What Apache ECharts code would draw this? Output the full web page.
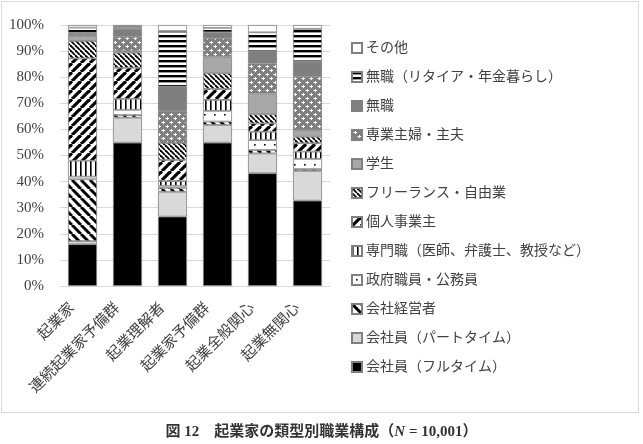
<!DOCTYPE html>
<html>
<head>
<meta charset="utf-8">
<script src="https://cdn.jsdelivr.net/npm/echarts@6/dist/echarts.min.js"></script>
<style>
html, body { margin: 0; padding: 0; background: #fff; }
#chart { width: 643px; height: 444px; }
</style>
</head>
<body>
<div id="chart"></div>
<script>
// 類型 (x 軸)
var categories = ['起業家', '連続起業家予備群', '起業理解者', '起業家予備群', '起業全般関心', '起業無関心'];

// 職業構成 (%), 下から順
var fullTime     = [16.0, 54.9, 26.6, 54.9, 43.2, 32.7];
var partTime     = [1.2, 9.6, 9.5, 6.8, 7.6, 11.4];
var executive    = [23.7, 1.0, 1.5, 1.3, 1.3, 0.7];
var government   = [1.0, 2.0, 0.8, 4.1, 3.8, 3.9];
var professional = [6.1, 4.2, 1.8, 4.2, 3.2, 2.8];
var selfEmployed = [39.2, 11.9, 8.1, 4.2, 3.2, 3.2];
var freelance    = [6.7, 5.8, 6.6, 6.0, 3.5, 2.5];
var student      = [1.9, 0.6, 0.0, 6.4, 8.0, 2.6];
var homemaker    = [0.7, 5.5, 12.1, 7.0, 11.5, 20.4];
var unemployed   = [0.5, 3.0, 9.4, 2.3, 4.7, 6.0];
var retired      = [2.0, 1.0, 21.3, 1.7, 7.2, 12.3];
var other        = [1.0, 0.5, 2.3, 1.1, 2.8, 1.5];

var FONT = '"Liberation Serif", "Noto Sans CJK JP", serif';

/*------------ パターン作成 ------------*/
function tile(size, draw){
    var c = document.createElement('canvas');
    c.width = size; c.height = size;
    var ctx = c.getContext('2d');
    draw(ctx, size);
    return { image: c, repeat: 'repeat' };
}
function diag(size, w, dir){
    return tile(size, function(ctx, s){
        ctx.fillStyle = '#fff';
        ctx.fillRect(0, 0, s, s);
        ctx.strokeStyle = '#000';
        ctx.lineWidth = w;
        for (var o = -s; o <= s; o += s){
            ctx.beginPath();
            if (dir > 0){ ctx.moveTo(o, s); ctx.lineTo(o + s, 0); }
            else { ctx.moveTo(o, 0); ctx.lineTo(o + s, s); }
            ctx.stroke();
        }
    });
}
var patVertical = tile(5, function(ctx, s){
    ctx.fillStyle = '#fff'; ctx.fillRect(0, 0, s, s);
    ctx.fillStyle = '#000'; ctx.fillRect(0, 0, 1.6, s);
});
var patHorizontal = tile(5, function(ctx, s){
    ctx.fillStyle = '#fff'; ctx.fillRect(0, 0, s, s);
    ctx.fillStyle = '#000'; ctx.fillRect(0, 0, s, 2.4);
});
var patDots = tile(10, function(ctx, s){
    ctx.fillStyle = '#fff'; ctx.fillRect(0, 0, s, s);
    ctx.fillStyle = '#000'; ctx.fillRect(4, 4, 1.6, 1.6);
});
var patCheck = tile(8, function(ctx, s){
    ctx.fillStyle = '#808080'; ctx.fillRect(0, 0, s, s);
    ctx.fillStyle = '#c8c8c8';
    ctx.fillRect(1, 2, 1, 1); ctx.fillRect(5, 6, 1, 1);
    ctx.fillStyle = '#fff';
    ctx.fillRect(3, 1, 1, 3); ctx.fillRect(2, 2, 3, 1);
    ctx.fillRect(7, 5, 1, 3); ctx.fillRect(6, 6, 3, 1);
    ctx.fillRect(-1, 6, 2, 1);
});

var seriesDefs = [
    { name: '会社員（フルタイム）', data: fullTime, color: '#000' },
    { name: '会社員（パートタイム）', data: partTime, color: '#d9d9d9' },
    { name: '会社経営者', data: executive, color: diag(9, 3, -1) },
    { name: '政府職員・公務員', data: government, color: patDots },
    { name: '専門職（医師、弁護士、教授など）', data: professional, color: patVertical },
    { name: '個人事業主', data: selfEmployed, color: diag(9, 3.2, 1) },
    { name: 'フリーランス・自由業', data: freelance, color: diag(5, 1.8, -1) },
    { name: '学生', data: student, color: '#a8a8a8' },
    { name: '専業主婦・主夫', data: homemaker, color: patCheck },
    { name: '無職', data: unemployed, color: '#7f7f7f' },
    { name: '無職（リタイア・年金暮らし）', data: retired, color: patHorizontal },
    { name: 'その他', data: other, color: '#fff' }
];

var series = seriesDefs.map(function(d){
    return {
        name: d.name,
        type: 'bar',
        stack: 'total',
        barWidth: 29,
        data: d.data,
        itemStyle: { color: d.color, borderColor: '#808080', borderWidth: 0.8 }
    };
});

var chart = echarts.init(document.getElementById('chart'));
var option = {
    animation: false,
    backgroundColor: '#fff',
    graphic: [{
        type: 'rect',
        shape: { x: 1.5, y: 1.5, width: 637, height: 411 },
        style: { fill: 'none', stroke: '#d9d9d9', lineWidth: 1 },
        silent: true
    }],
    title: {
        left: 'center',
        top: 420,
        text: '{b|図 12　起業家の類型別職業構成（}{i|N}{b| = 10,001）}',
        textStyle: {
            rich: {
                b: { fontFamily: FONT, fontSize: 15, fontWeight: 'bold', color: '#333' },
                i: { fontFamily: FONT, fontSize: 15, fontWeight: 'bold', fontStyle: 'italic', color: '#333' }
            }
        }
    },
    legend: {
        orient: 'vertical',
        left: 346,
        top: 36,
        icon: 'rect',
        itemWidth: 10,
        itemHeight: 10,
        itemGap: 15,
        data: seriesDefs.map(function(d){ return d.name; }).reverse(),
        textStyle: { fontFamily: FONT, fontSize: 14, color: '#404040', padding: [0, 0, 0, -1] }
    },
    grid: { left: 60, top: 25, width: 270, height: 261 },
    xAxis: {
        type: 'category',
        data: categories,
        axisLine: { lineStyle: { color: '#d9d9d9' } },
        axisTick: { show: false },
        axisLabel: {
            rotate: 45,
            margin: 10,
            interval: 0,
            padding: [0, 14, 0, 0],
            fontFamily: FONT,
            fontSize: 15,
            color: '#404040'
        }
    },
    yAxis: {
        type: 'value',
        min: 0,
        max: 100,
        interval: 10,
        axisLine: { show: false },
        axisTick: { show: false },
        splitLine: { lineStyle: { color: '#d9d9d9' } },
        axisLabel: {
            formatter: '{value}%',
            margin: 16,
            fontFamily: FONT,
            fontSize: 15,
            color: '#404040'
        }
    },
    series: series
};
chart.setOption(option);
</script>
</body>
</html>
